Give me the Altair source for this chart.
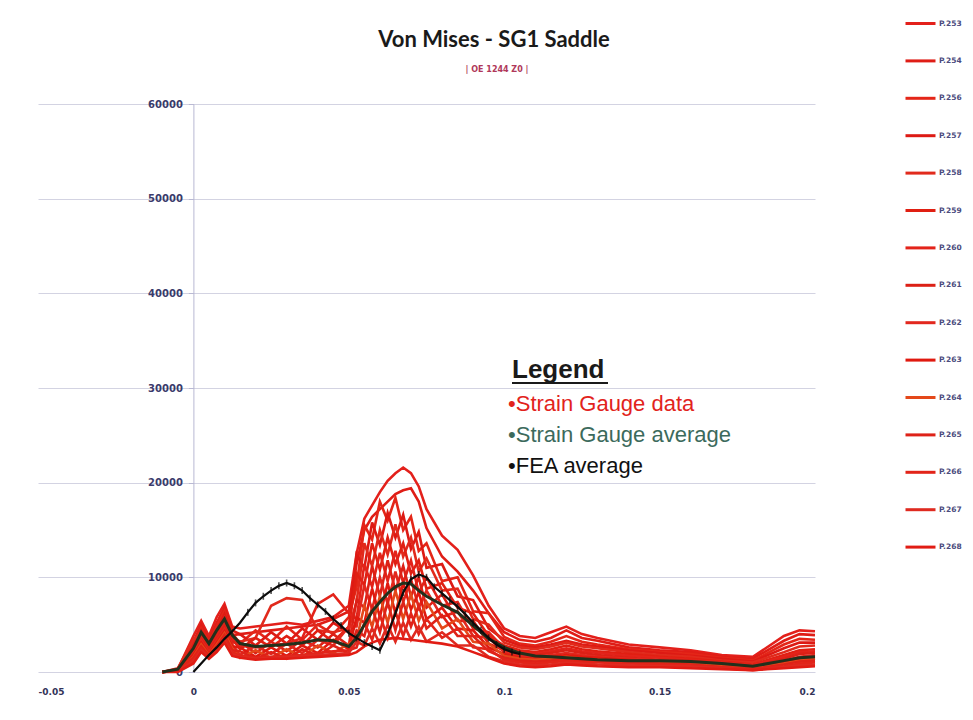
import altair as alt
import pandas as pd

# ---------------- data (stress values in thousands) ----------------
x_vals = [-0.010, -0.005, 0.000, 0.0025, 0.005, 0.0075, 0.010, 0.0125, 0.015, 0.020,
          0.025, 0.030, 0.035, 0.040, 0.045, 0.050, 0.0525, 0.055, 0.0575, 0.060,
          0.0625, 0.065, 0.0675, 0.070, 0.0725, 0.075, 0.080, 0.085, 0.090, 0.095,
          0.100, 0.105, 0.110, 0.115, 0.120, 0.125, 0.130, 0.140, 0.150, 0.160,
          0.170, 0.180, 0.190, 0.195, 0.200]

gauge_names = ["P.253", "P.254", "P.256", "P.257", "P.258", "P.259", "P.260", "P.261",
               "P.262", "P.263", "P.264", "P.265", "P.266", "P.267", "P.268"]

g253 = [0.0, 0.3, 3.8, 5.4, 3.8, 5.8, 7.2, 4.8, 4.6, 4.8, 5.0, 5.2, 5.0, 5.4, 5.8, 7.0, 12.5, 16.2, 17.6, 19.0, 20.2, 21.0, 21.6, 21.0, 19.6, 17.2, 14.4, 12.9, 10.2, 7.0, 4.6, 3.8, 3.6, 4.2, 4.8, 4.0, 3.6, 2.9, 2.6, 2.3, 1.8, 1.6, 3.8, 4.4, 4.3]
g254 = [0.0, 0.2, 3.2, 5.0, 3.4, 5.2, 6.8, 4.4, 4.0, 4.2, 4.4, 4.6, 4.8, 5.0, 5.6, 6.4, 11.4, 15.0, 16.4, 17.2, 18.0, 18.8, 19.2, 19.4, 18.0, 15.2, 12.2, 10.6, 8.6, 6.2, 4.2, 3.4, 3.2, 3.6, 4.4, 3.6, 3.3, 2.6, 2.3, 2.1, 1.6, 1.4, 3.3, 4.0, 3.9]
g256 = [0.0, 0.1, 2.8, 4.6, 3.1, 4.8, 6.4, 4.1, 3.0, 4.4, 3.2, 4.8, 3.4, 5.0, 4.0, 5.8, 9.0, 15.5, 14.0, 18.0, 16.0, 18.4, 15.0, 16.4, 12.8, 13.6, 9.6, 10.0, 6.4, 6.2, 3.7, 3.0, 2.8, 3.2, 3.8, 3.2, 2.9, 2.4, 2.1, 1.9, 1.5, 1.2, 2.9, 3.5, 3.4]
g257 = [0.0, 0.2, 3.0, 4.4, 2.9, 4.4, 6.1, 3.9, 4.0, 2.8, 4.2, 3.0, 4.6, 3.4, 5.2, 4.2, 12.4, 11.0, 15.8, 13.4, 16.8, 14.2, 16.6, 13.0, 14.8, 11.0, 11.4, 8.0, 7.6, 4.6, 3.4, 2.8, 2.6, 2.9, 3.3, 2.9, 2.7, 2.3, 2.0, 1.7, 1.4, 1.1, 2.5, 3.1, 3.1]
g258 = [0.0, 0.4, 3.4, 4.2, 2.7, 4.1, 5.7, 3.7, 3.2, 3.6, 7.0, 7.8, 7.6, 4.4, 4.2, 4.6, 7.4, 13.6, 11.2, 15.0, 12.4, 15.6, 12.2, 14.2, 10.6, 12.0, 8.6, 8.8, 5.6, 5.0, 3.1, 2.6, 2.4, 2.7, 3.1, 2.7, 2.5, 2.1, 1.8, 1.6, 1.2, 1.0, 2.1, 2.7, 2.8]
g259 = [0.0, 0.1, 2.6, 4.0, 2.6, 3.9, 5.4, 3.5, 2.4, 3.6, 2.6, 3.8, 2.8, 4.4, 3.2, 4.8, 10.4, 9.2, 13.6, 10.8, 14.2, 11.4, 13.6, 10.4, 11.8, 8.8, 9.4, 6.8, 6.2, 3.8, 2.8, 2.3, 2.1, 2.4, 2.8, 2.4, 2.2, 1.9, 1.6, 1.4, 1.1, 0.8, 1.8, 2.3, 2.4]
g260 = [0.0, 0.2, 2.4, 3.8, 2.5, 3.7, 5.1, 3.3, 2.8, 2.6, 2.8, 3.0, 3.6, 7.2, 8.2, 6.2, 5.6, 11.4, 9.0, 12.6, 9.6, 12.8, 9.4, 11.8, 8.4, 10.0, 7.0, 7.4, 4.6, 4.2, 2.5, 2.1, 1.9, 2.2, 2.5, 2.2, 2.0, 1.7, 1.5, 1.3, 1.0, 0.7, 1.6, 2.1, 2.2]
g261 = [0.0, 0.3, 2.2, 3.5, 2.3, 3.5, 4.8, 3.1, 3.2, 2.0, 3.2, 2.2, 3.4, 2.6, 4.0, 2.8, 7.6, 6.8, 11.2, 8.0, 11.8, 8.6, 11.2, 8.0, 10.0, 6.8, 8.2, 5.4, 5.4, 3.0, 2.3, 1.9, 1.8, 2.0, 2.3, 2.0, 1.8, 1.5, 1.3, 1.2, 0.9, 0.6, 1.4, 1.9, 2.0]
g262 = [0.0, 0.1, 2.0, 3.3, 2.1, 3.3, 4.5, 2.9, 1.8, 2.8, 1.9, 3.0, 2.0, 3.4, 2.8, 4.8, 4.8, 9.2, 6.6, 10.0, 7.2, 10.6, 7.4, 9.8, 6.8, 8.6, 5.8, 6.4, 3.8, 3.6, 2.1, 1.7, 1.6, 1.8, 2.0, 1.8, 1.6, 1.4, 1.2, 1.1, 0.8, 0.5, 1.2, 1.6, 1.8]
g263 = [0.0, 0.2, 1.8, 3.1, 1.9, 3.1, 4.3, 2.7, 2.6, 1.6, 2.6, 1.7, 2.8, 2.0, 3.4, 2.4, 5.8, 5.2, 8.8, 5.8, 9.4, 6.2, 9.4, 6.6, 8.4, 5.6, 6.8, 4.6, 4.4, 2.6, 1.9, 1.5, 1.4, 1.6, 1.8, 1.6, 1.5, 1.3, 1.1, 1.0, 0.7, 0.5, 1.0, 1.4, 1.6]
g264 = [0.0, 0.1, 1.6, 2.9, 1.8, 2.9, 4.1, 2.5, 1.5, 2.3, 1.5, 2.4, 1.6, 2.8, 2.0, 3.0, 3.4, 7.0, 4.8, 8.0, 5.2, 8.6, 5.6, 8.2, 5.4, 7.4, 4.6, 5.6, 3.2, 3.0, 1.7, 1.4, 1.3, 1.4, 1.6, 1.4, 1.3, 1.1, 1.0, 0.9, 0.6, 0.4, 0.9, 1.2, 1.4]
g265 = [0.0, 0.2, 1.5, 2.7, 1.7, 2.7, 3.9, 2.3, 2.2, 1.4, 2.1, 1.4, 2.4, 1.7, 2.8, 2.0, 4.4, 3.8, 6.8, 4.2, 7.4, 4.4, 7.4, 4.8, 7.0, 4.6, 6.0, 3.8, 3.8, 2.2, 1.5, 1.2, 1.1, 1.2, 1.4, 1.2, 1.1, 1.0, 0.9, 0.8, 0.5, 0.3, 0.8, 1.1, 1.2]
g266 = [0.0, 0.1, 1.3, 2.5, 1.6, 2.5, 3.6, 2.1, 1.7, 1.5, 1.6, 1.7, 1.8, 2.0, 2.2, 2.3, 2.6, 5.2, 3.4, 6.0, 3.6, 6.4, 3.8, 6.2, 4.0, 5.6, 3.6, 4.6, 2.6, 2.4, 1.3, 1.0, 0.9, 1.0, 1.2, 1.0, 1.0, 0.9, 0.8, 0.7, 0.5, 0.3, 0.6, 0.9, 1.0]
g267 = [0.0, 0.1, 1.1, 2.3, 1.5, 2.3, 3.3, 1.9, 1.6, 1.4, 1.5, 1.6, 1.7, 1.8, 1.9, 2.0, 3.2, 2.8, 4.6, 3.0, 5.0, 3.2, 5.2, 3.4, 4.8, 3.2, 4.2, 2.8, 2.8, 1.6, 1.1, 0.8, 0.7, 0.8, 1.0, 0.9, 0.8, 0.7, 0.6, 0.6, 0.4, 0.2, 0.5, 0.7, 0.8]
g268 = [0.0, 0.0, 0.9, 2.1, 1.4, 2.1, 3.1, 1.7, 1.5, 1.3, 1.4, 1.4, 1.5, 1.6, 1.7, 1.8, 2.1, 2.7, 3.1, 3.4, 3.5, 3.6, 3.5, 3.4, 3.3, 3.2, 3.0, 2.7, 2.1, 1.5, 0.9, 0.6, 0.5, 0.6, 0.8, 0.7, 0.6, 0.5, 0.5, 0.4, 0.3, 0.2, 0.4, 0.5, 0.6]

gauge_values = [g253, g254, g256, g257, g258, g259, g260, g261,
                g262, g263, g264, g265, g266, g267, g268]

avg_values = [0.0, 0.3, 2.5, 4.2, 3.0, 4.4, 5.6, 3.9, 3.0, 2.7, 2.8, 2.9, 3.1, 3.4, 3.3, 2.7, 3.6, 5.0, 6.4, 7.4, 8.3, 9.0, 9.4, 9.3, 8.6, 8.0, 7.1, 6.3, 4.9, 3.5, 2.6, 2.0, 1.7, 1.6, 1.5, 1.4, 1.3, 1.2, 1.2, 1.1, 0.9, 0.6, 1.2, 1.5, 1.6]

fea_x = [0.0, 0.0025, 0.005, 0.0075, 0.010, 0.0125, 0.015, 0.0175, 0.020, 0.0225,
         0.025, 0.0275, 0.030, 0.0325, 0.035, 0.0375, 0.040, 0.0425, 0.045, 0.0475,
         0.050, 0.0525, 0.055, 0.0575, 0.060, 0.0625, 0.065, 0.0675, 0.070, 0.0725,
         0.075, 0.0775, 0.080, 0.0825, 0.085, 0.0875, 0.090, 0.0925, 0.095, 0.0975,
         0.100, 0.1025, 0.105]
fea_values = [0.0, 0.9, 1.8, 2.6, 3.5, 4.3, 5.2, 6.3, 7.3, 8.0,
              8.6, 9.1, 9.4, 9.1, 8.6, 7.8, 7.1, 6.4, 5.6, 4.9,
              4.1, 3.6, 3.1, 2.7, 2.3, 4.0, 6.2, 8.4, 9.8, 10.3,
              10.0, 9.0, 8.3, 7.6, 6.9, 6.1, 5.2, 4.4, 3.6, 2.9,
              2.4, 2.1, 1.9]

x_ticks = [-0.05, 0, 0.05, 0.1, 0.15, 0.2]
y_ticks = [0, 10000, 20000, 30000, 40000, 50000, 60000]

gauge_colors = ["#e3201b", "#df1d16", "#e42618", "#dd1a14", "#e12a1c", "#e01f12",
                "#e3231a", "#dc2016", "#e2281e", "#e0190f", "#e4481a", "#de2218",
                "#e22419", "#df2a20", "#e11c14"]

title_text = "Von Mises - SG1 Saddle"
subtitle_text = "| OE 1244 Z0 |"
legend_heading = "Legend"
legend_lines = ["•Strain Gauge data", "•Strain Gauge average", "•FEA average"]
legend_line_colors = ["#e2231c", "#3c6a5c", "#111111"]

# ---------------- tables ----------------
rows = []
for name, vals in zip(gauge_names, gauge_values):
    assert len(vals) == len(x_vals), name
    for i, (xv, v) in enumerate(zip(x_vals, vals)):
        rows.append({"gauge": name, "x": xv, "stress": v * 1000, "idx": i})
gauge_df = pd.DataFrame(rows)

assert len(avg_values) == len(x_vals)
avg_df = pd.DataFrame({"x": x_vals, "stress": [v * 1000 for v in avg_values],
                       "idx": list(range(len(x_vals)))})
assert len(fea_values) == len(fea_x)
fea_df = pd.DataFrame({"x": fea_x, "stress": [v * 1000 for v in fea_values],
                       "idx": list(range(len(fea_x)))})

W, H = 777, 568
LAB_FONT = "DejaVu Sans"

x_enc = alt.X("x:Q",
              scale=alt.Scale(domain=[-0.05, 0.2], nice=False, zero=False),
              axis=alt.Axis(values=x_ticks, title=None, grid=False, ticks=False,
                            domain=False, labelFont=LAB_FONT, labelFontSize=9,
                            labelFontWeight="bold", labelColor="#333358",
                            labelPadding=15,
                            labelExpr="replace(datum.label, '\u2212', '-')",
                            format="~g"))
y_enc = alt.Y("stress:Q",
              scale=alt.Scale(domain=[0, 60000], nice=False),
              axis=alt.Axis(values=y_ticks, title=None, format="d", offset=-155.4,
                            grid=True, gridColor="#d3d3e2", gridWidth=1,
                            domainColor="#b9b9d3", domainWidth=1,
                            tickColor="#b9b9d3", tickSize=5,
                            labelFont=LAB_FONT, labelFontSize=10,
                            labelFontWeight="bold", labelColor="#3b3b6b",
                            labelPadding=6))

gauges = alt.Chart(gauge_df).mark_line(strokeWidth=2.6).encode(
    x=x_enc, y=y_enc,
    order="idx:Q",
    color=alt.Color("gauge:N",
                    scale=alt.Scale(domain=gauge_names, range=gauge_colors),
                    legend=alt.Legend(title=None, orient="none", legendX=866,
                                      legendY=-97, symbolType="stroke",
                                      symbolSize=900, symbolStrokeWidth=3,
                                      labelFont=LAB_FONT, labelFontSize=7.5,
                                      labelFontWeight="bold", labelColor="#4b4b7d",
                                      labelOffset=2, rowPadding=14.4, padding=0)),
)

avg_line = alt.Chart(avg_df).mark_line(strokeWidth=3, color="#22301c").encode(
    x="x:Q", y="stress:Q", order="idx:Q")

fea_line = alt.Chart(fea_df).mark_line(strokeWidth=2.2, color="#0c0c0c").encode(
    x="x:Q", y="stress:Q", order="idx:Q")

fea_ticks = alt.Chart(fea_df).transform_filter("datum.x >= 0.0175").mark_tick(
    orient="vertical", size=7, thickness=1.6, color="#0c0c0c").encode(
    x="x:Q", y="stress:Q")

title_mark = alt.Chart(pd.DataFrame({"t": [title_text]})).mark_text(
    x=456, y=-57, align="center", baseline="alphabetic", font="Lato",
    fontSize=22, fontWeight="bold", color="#1a1a1a").encode(text="t:N")

subtitle_mark = alt.Chart(pd.DataFrame({"t": [subtitle_text]})).mark_text(
    x=459, y=-34, align="center", baseline="middle", font=LAB_FONT,
    fontSize=8, fontWeight="bold", color="#b0385a").encode(text="t:N")

heading_mark = alt.Chart(pd.DataFrame({"t": [legend_heading]})).mark_text(
    x=474, y=274, align="left", baseline="alphabetic", font="Liberation Sans",
    fontSize=26, fontWeight="bold", color="#1a1a1a").encode(text="t:N")

underline = alt.Chart(pd.DataFrame({"t": [legend_heading]})).mark_rule(
    color="#1a1a1a", strokeWidth=2).encode(
    x=alt.value(474), x2=alt.value(570), y=alt.value(279))

line_layers = []
for i, (txt, col) in enumerate(zip(legend_lines, legend_line_colors)):
    line_layers.append(
        alt.Chart(pd.DataFrame({"t": [txt]})).mark_text(
            x=470, y=307 + i * 31, align="left", baseline="alphabetic",
            font="Liberation Sans", fontSize=22, color=col).encode(text="t:N"))

chart = alt.layer(gauges, avg_line, fea_line, fea_ticks, title_mark, subtitle_mark,
                  heading_mark, underline, *line_layers).properties(
    width=W, height=H,
    autosize=alt.AutoSizeParams(type="none"),
    padding={"left": 30, "top": 96, "right": 150, "bottom": 40},
    background="white",
).configure_view(stroke=None)

chart.save("out.html", embed_options={"renderer": "svg", "actions": False})
